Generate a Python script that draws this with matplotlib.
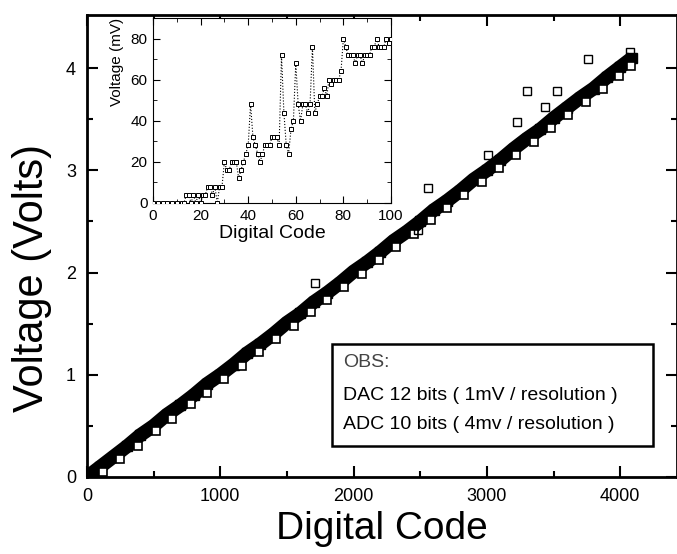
#Importing the libraries
import numpy as np
import matplotlib
matplotlib.use("Agg")
import matplotlib.pyplot as plt
from matplotlib.patches import Rectangle

plt.rcParams['font.family'] = ['Liberation Sans', 'DejaVu Sans']

band_code = [0, 100, 200, 300, 400, 500, 600, 700, 800, 900, 1000, 1100, 1200, 1300,
             1400, 1500, 1600, 1700, 1800, 1900, 2000, 2100, 2200, 2300, 2400, 2500,
             2600, 2700, 2800, 2900, 3000, 3100, 3200, 3300, 3400, 3500, 3600, 3700,
             3800, 3900, 4000, 4090]
band_volt = [0.00, 0.10, 0.20, 0.30, 0.41, 0.50, 0.61, 0.70, 0.80, 0.91, 1.00, 1.10,
             1.21, 1.30, 1.40, 1.51, 1.60, 1.71, 1.80, 1.90, 2.01, 2.10, 2.20, 2.31,
             2.40, 2.50, 2.61, 2.70, 2.80, 2.91, 3.00, 3.10, 3.21, 3.31, 3.40, 3.51,
             3.61, 3.71, 3.80, 3.91, 4.01, 4.10]

#open squares along the lower edge of the band
edge_code = [120, 250, 380, 520, 640, 780, 900, 1030, 1160, 1290, 1420, 1550, 1680,
             1800, 1930, 2060, 2190, 2320, 2450, 2580, 2700, 2830, 2960, 3090, 3220,
             3350, 3480, 3610, 3740, 3870, 3990, 4080]
edge_volt = [0.05, 0.18, 0.30, 0.45, 0.57, 0.71, 0.82, 0.96, 1.09, 1.22, 1.35, 1.48,
             1.61, 1.73, 1.86, 1.99, 2.12, 2.25, 2.38, 2.51, 2.63, 2.76, 2.89, 3.02,
             3.15, 3.28, 3.41, 3.54, 3.67, 3.80, 3.92, 4.02]

#scattered points away from the band
out_code = [1710, 2483, 2560, 3008, 3226, 3300, 3436, 3526, 3758, 4070]
out_volt = [1.90, 2.42, 2.83, 3.15, 3.47, 3.78, 3.62, 3.78, 4.09, 4.16]

#Inset: first 100 codes (mV)
ins_code = [0, 2, 4, 6, 8, 10, 12, 13, 14, 15, 16, 17, 18, 19, 20, 21, 22, 23, 24, 25,
            26, 27, 28, 29, 30, 31, 32, 33, 34, 35, 36, 37, 38, 39, 40, 41, 42, 43, 44,
            45, 46, 47, 48, 49, 50, 51, 52, 53, 54, 55, 56, 57, 58, 59, 60, 61, 62, 63,
            64, 65, 66, 67, 68, 69, 70, 71, 72, 73, 74, 75, 76, 77, 78, 79, 80, 81, 82,
            83, 84, 85, 86, 87, 88, 89, 90, 91, 92, 93, 94, 95, 96, 97, 98, 99, 100]
ins_mv = [0, 0, 0, 0, 0, 0, 0, 0, 4, 4, 0, 4, 0, 4, 0, 4, 4, 8, 8, 4,
          8, 0, 8, 8, 20, 16, 16, 20, 20, 20, 12, 16, 20, 24, 28, 48, 32, 28, 24,
          20, 24, 28, 28, 28, 32, 32, 32, 28, 72, 44, 28, 24, 36, 40, 68, 48, 40, 48,
          48, 44, 48, 76, 44, 48, 52, 52, 56, 52, 60, 58, 60, 60, 60, 64, 80, 76, 72,
          72, 72, 68, 72, 72, 68, 72, 72, 72, 76, 76, 80, 76, 76, 76, 80, 78, 80]

obs_lines = ["OBS:", "DAC 12 bits ( 1mV / resolution )", "ADC 10 bits ( 4mv / resolution )"]

#Plotting the graph
fig = plt.figure(figsize=(6.77, 5.54), dpi=100)
ax = fig.add_axes([0.1285, 0.139, 0.8715, 0.834])

ax.plot(band_code, band_volt, color='black', lw=10, solid_capstyle='butt', zorder=2)
ax.plot(band_code, band_volt, 's', ms=7, mfc='black', mec='black', zorder=2)
ax.plot(edge_code, edge_volt, 's', ms=6, mfc='white', mec='black', mew=1.2, zorder=3)
ax.plot(out_code, out_volt, 's', ms=6, mfc='none', mec='black', mew=1.0, zorder=3)

ax.set_xlim(0, 4426)
ax.set_ylim(0, 4.52)
ax.set_xticks([0, 1000, 2000, 3000, 4000])
ax.set_xticks(np.arange(500, 4500, 1000), minor=True)
ax.set_yticks([0, 1, 2, 3, 4])
ax.set_yticks(np.arange(0.5, 4.5, 1), minor=True)
ax.tick_params(which='both', direction='in', top=True, right=True, width=1.5,
               labelsize=13)
ax.tick_params(which='major', length=8, pad=8)
ax.tick_params(which='minor', length=4)
for s in ax.spines.values():
    s.set_linewidth(2)

ax.set_xlabel('Digital Code', fontsize=28, labelpad=4)
ax.set_ylabel('Voltage (Volts)', fontsize=30)
ax.yaxis.set_label_coords(-0.06, 0.43)

#OBS box
ax.add_patch(Rectangle((0.415, 0.067), 0.544, 0.221, transform=ax.transAxes,
                       fill=False, lw=1.8, ec='black', zorder=4))
for txt, yy in zip(obs_lines, [0.247, 0.177, 0.113]):
    ax.text(0.434, yy, txt, transform=ax.transAxes, fontsize=14, va='center',
            ha='left', color='black' if txt != "OBS:" else '#444444')

#Inset
axi = fig.add_axes([0.226, 0.6336, 0.3515, 0.334])
axi.plot(ins_code, ins_mv, color='black', lw=0.8, ls=':', zorder=2)
axi.plot(ins_code, ins_mv, 's', ms=3, mfc='white', mec='black', mew=0.7, zorder=3)
axi.set_xlim(0, 100)
axi.set_ylim(0, 90)
axi.set_xticks([0, 20, 40, 60, 80, 100])
axi.set_xticks([10, 30, 50, 70, 90], minor=True)
axi.set_yticks([0, 20, 40, 60, 80])
axi.set_yticks([10, 30, 50, 70], minor=True)
axi.tick_params(which='both', direction='in', top=True, right=True, labelsize=11)
axi.tick_params(which='major', length=5, pad=4)
axi.tick_params(which='minor', length=3)
axi.set_xlabel('Digital Code', fontsize=14, labelpad=2)
axi.set_ylabel('Voltage (mV)', fontsize=11)
axi.yaxis.set_label_coords(-0.12, 0.76)

plt.savefig('out.png', dpi=100)
